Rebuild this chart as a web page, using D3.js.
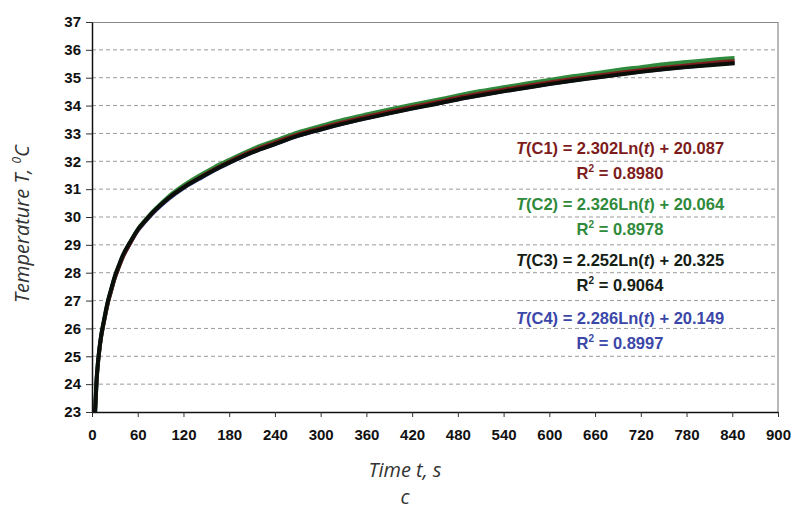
<!DOCTYPE html>
<html lang="en">
<head>
<meta charset="UTF-8">
<title>Temperature vs time</title>
<script src="https://d3js.org/d3.v7.min.js"></script>
<style>
  body { margin: 0; background: #fff; }
  .tick-label { font-family: "Liberation Sans", Arial, sans-serif; font-weight: bold; font-size: 15px; fill: #111; }
  .axis-title { font-family: "Open Sans", sans-serif; font-style: italic; font-size: 20px; fill: #333; }
  .fit { font-family: "Liberation Sans", Arial, sans-serif; font-weight: bold; font-size: 16.5px; }
  .grid { stroke: #9a9a9a; stroke-width: 1; stroke-dasharray: 4,3; }
</style>
</head>
<body>
<div id="chart"></div>
<script>

// time samples, s
var times = [4, 5, 6, 8, 10, 12, 15, 18, 21, 25, 30, 35, 40, 50, 60, 70, 80, 90, 100, 120, 140, 160, 180, 210, 240, 270, 300, 330, 360, 390, 420, 450, 480, 510, 540, 570, 600, 630, 660, 690, 720, 750, 780, 810, 843];

// temperatures, deg C
var tempC1 = [22.92, 23.52, 24.07, 24.77, 25.27, 25.67, 26.12, 26.54, 26.92, 27.32, 27.8, 28.17, 28.52, 29.04, 29.52, 29.85, 30.16, 30.43, 30.67, 31.07, 31.4, 31.71, 31.99, 32.37, 32.68, 32.97, 33.2, 33.41, 33.61, 33.79, 33.96, 34.12, 34.29, 34.44, 34.58, 34.71, 34.84, 34.96, 35.07, 35.18, 35.28, 35.37, 35.45, 35.53, 35.6];
var tempC2 = [22.95, 23.55, 24.1, 24.8, 25.3, 25.7, 26.15, 26.57, 26.95, 27.35, 27.83, 28.2, 28.55, 29.08, 29.55, 29.89, 30.2, 30.47, 30.72, 31.13, 31.47, 31.78, 32.05, 32.43, 32.74, 33.04, 33.27, 33.49, 33.68, 33.86, 34.03, 34.19, 34.36, 34.52, 34.66, 34.79, 34.92, 35.05, 35.16, 35.28, 35.38, 35.48, 35.56, 35.64, 35.71];
var tempC3 = [23.0, 23.6, 24.15, 24.85, 25.35, 25.75, 26.2, 26.62, 27.0, 27.4, 27.88, 28.25, 28.6, 29.1, 29.55, 29.87, 30.17, 30.43, 30.67, 31.06, 31.38, 31.68, 31.95, 32.32, 32.62, 32.91, 33.14, 33.35, 33.54, 33.72, 33.89, 34.05, 34.22, 34.37, 34.51, 34.64, 34.77, 34.89, 35.0, 35.11, 35.21, 35.3, 35.38, 35.45, 35.52];
var tempC4 = [22.95, 23.55, 24.1, 24.8, 25.3, 25.7, 26.15, 26.57, 26.95, 27.35, 27.83, 28.2, 28.55, 29.06, 29.51, 29.84, 30.14, 30.4, 30.64, 31.04, 31.36, 31.67, 31.94, 32.32, 32.62, 32.91, 33.14, 33.36, 33.55, 33.73, 33.9, 34.06, 34.23, 34.38, 34.52, 34.65, 34.78, 34.9, 35.01, 35.12, 35.22, 35.31, 35.39, 35.47, 35.54];

// axis ticks
var xTicks = [0, 60, 120, 180, 240, 300, 360, 420, 480, 540, 600, 660, 720, 780, 840, 900];
var yTicks = [23, 24, 25, 26, 27, 28, 29, 30, 31, 32, 33, 34, 35, 36, 37];

// fit equations shown on the chart
var fitNames = ["C1", "C2", "C3", "C4"];
var fitSlopes = ["2.302", "2.326", "2.252", "2.286"];
var fitIntercepts = ["20.087", "20.064", "20.325", "20.149"];
var fitR2 = ["0.8980", "0.8978", "0.9064", "0.8997"];
var seriesColors = ["#7d1c1c", "#2f8a3c", "#152015", "#3b47a8"];

var margin = {top: 22, right: 19, bottom: 98, left: 92},
    fullW = 797, fullH = 510,
    width = fullW - margin.left - margin.right,
    height = fullH - margin.top - margin.bottom;

var svg = d3.select("#chart").append("svg")
    .attr("width", fullW)
    .attr("height", fullH);

var g = svg.append("g")
    .attr("transform", "translate(" + margin.left + "," + margin.top + ")");

var x = d3.scaleLinear().domain([0, 900]).range([0, width]);
var y = d3.scaleLinear().domain([23, 37]).range([height, 0]);

// dashed gridlines
g.append("g")
  .selectAll("line")
  .data(yTicks.filter(function(d) { return d > 23 && d < 37; }))
  .enter().append("line")
    .attr("class", "grid")
    .attr("x1", 0).attr("x2", width)
    .attr("y1", function(d) { return y(d); })
    .attr("y2", function(d) { return y(d); });

// top and right frame
g.append("path")
    .attr("d", "M0,0.5H" + width + "V" + height)
    .attr("fill", "none")
    .attr("stroke", "#8a8a8a")
    .attr("stroke-width", 1.2);

// curves, black one on top
var clipId = "plotclip";
g.append("clipPath").attr("id", clipId)
  .append("rect").attr("width", width).attr("height", height);

var line = d3.line()
    .x(function(d) { return x(d[0]); })
    .y(function(d) { return y(d[1]); })
    .curve(d3.curveMonotoneX);

var seriesList = [tempC4, tempC2, tempC1, tempC3];
var seriesCol = [seriesColors[3], seriesColors[1], seriesColors[0], "#0a0f0a"];
var seriesW = [4, 4, 3.5, 4];

g.append("g").attr("clip-path", "url(#" + clipId + ")")
  .selectAll("path")
  .data(seriesList)
  .enter().append("path")
    .attr("fill", "none")
    .attr("stroke", function(d, i) { return seriesCol[i]; })
    .attr("stroke-width", function(d, i) { return seriesW[i]; })
    .attr("stroke-linejoin", "round")
    .attr("d", function(vals) {
      return line(vals.map(function(v, i) { return [times[i], v]; }));
    });

// axes
var xAxis = g.append("g")
    .attr("transform", "translate(0," + height + ")")
    .call(d3.axisBottom(x).tickValues(xTicks).tickSize(5).tickSizeOuter(0).tickPadding(12));
var yAxis = g.append("g")
    .call(d3.axisLeft(y).tickValues(yTicks).tickSize(6).tickSizeOuter(0).tickPadding(5));

[xAxis, yAxis].forEach(function(a) {
  a.select(".domain").attr("stroke", "#111").attr("stroke-width", 1.5);
  a.selectAll(".tick line").attr("stroke", "#333");
  a.selectAll(".tick text").attr("class", "tick-label").attr("font-size", null).attr("font-family", null);
});

// fit equations
var fitX = 620;
var fitY = [148, 204, 260, 318];
fitNames.forEach(function(name, i) {
  var t1 = svg.append("text")
      .attr("class", "fit")
      .attr("x", fitX)
      .attr("y", fitY[i] + 6)
      .attr("text-anchor", "middle")
      .attr("fill", seriesColors[i]);
  t1.append("tspan").attr("font-style", "italic").text("T");
  t1.append("tspan").text("(" + name + ") = " + fitSlopes[i] + "Ln(");
  t1.append("tspan").attr("font-style", "italic").text("t");
  t1.append("tspan").text(") + " + fitIntercepts[i]);

  var t2 = svg.append("text")
      .attr("class", "fit")
      .attr("x", fitX)
      .attr("y", fitY[i] + 31)
      .attr("text-anchor", "middle")
      .attr("fill", seriesColors[i]);
  t2.append("tspan").text("R");
  t2.append("tspan").attr("font-size", "10px").attr("dy", -7).text("2");
  t2.append("tspan").attr("dy", 7).text(" = " + fitR2[i]);
});

// axis titles
svg.append("text")
    .attr("class", "axis-title")
    .attr("x", 405)
    .attr("y", 477)
    .attr("text-anchor", "middle")
    .text("Time t, s");

svg.append("text")
    .attr("class", "axis-title")
    .attr("x", 405)
    .attr("y", 504)
    .attr("text-anchor", "middle")
    .text("c");

var yt = svg.append("text")
    .attr("class", "axis-title")
    .attr("transform", "translate(29,224) rotate(-90)")
    .attr("text-anchor", "middle");
yt.append("tspan").text("Temperature T, ");
yt.append("tspan").attr("font-size", "12px").attr("dy", -8).text("0");
yt.append("tspan").attr("dy", 8).text("C");

</script>
</body>
</html>
